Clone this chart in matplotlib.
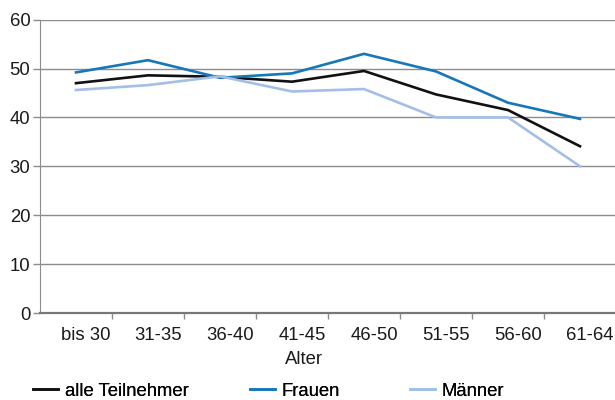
import matplotlib
matplotlib.use("Agg")
import matplotlib.pyplot as plt
from matplotlib.transforms import ScaledTranslation

plt.rcParams["font.family"] = ["Liberation Sans", "DejaVu Sans"]

# age groups and participation values (%)
categories = ["bis 30", "31-35", "36-40", "41-45", "46-50", "51-55", "56-60", "61-64"]
alle = [47.0, 48.6, 48.3, 47.3, 49.5, 44.7, 41.5, 34.1]
frauen = [49.2, 51.7, 48.1, 49.0, 53.0, 49.4, 43.0, 39.7]
maenner = [45.6, 46.6, 48.4, 45.3, 45.8, 40.0, 40.0, 30.0]

GRID = "#8c8c8c"
FS = 13.3

fig = plt.figure(figsize=(6.15, 4.0), dpi=100)
ax = fig.add_axes([40 / 615, 1 - 313 / 400, 576 / 615, (313 - 19.6) / 400])

x = range(len(categories))
ax.plot(x, alle, color="#111111", lw=1.9, label="alle Teilnehmer")
ax.plot(x, frauen, color="#1677b9", lw=1.9, label="Frauen")
ax.plot(x, maenner, color="#a3bfe8", lw=1.9, label="Männer")

ax.set_xlim(-0.5, len(categories) - 0.5)
ax.set_ylim(0, 60)
ax.set_yticks(range(0, 61, 10))
ax.yaxis.grid(True, color=GRID, lw=1.0)
ax.set_axisbelow(True)

# category labels near centres, tick marks on boundaries
ax.set_xticks([i + 0.5 for i in range(len(categories) - 1)])
ax.set_xticklabels([])
ax.set_xticks(list(x), minor=True)
ax.set_xticklabels(categories, minor=True)
ax.tick_params(axis="x", which="minor", length=0, pad=10, labelsize=FS, colors="#1a1a1a")
ax.tick_params(axis="x", which="major", length=4, color=GRID, width=1)
ax.tick_params(axis="y", length=5, color=GRID, width=1, labelsize=FS, labelcolor="#1a1a1a", pad=2)
shift = ScaledTranslation(10 / 100, 0, fig.dpi_scale_trans)
for lbl in ax.get_xticklabels(minor=True):
    lbl.set_transform(lbl.get_transform() + shift)

for s in ["top", "right"]:
    ax.spines[s].set_visible(False)
ax.spines["left"].set_color(GRID)
ax.spines["bottom"].set_color("#777777")
ax.spines["bottom"].set_linewidth(1.6)

ax.set_xlabel("Alter", fontsize=FS, color="#1a1a1a")
ax.xaxis.set_label_coords((304 - 40) / 576, -0.128)

# one legend entry each, placed like the original
handles, labels = ax.get_legend_handles_labels()
for h, l, px in zip(handles, labels, [33, 250, 410]):
    leg = fig.legend([h], [l], loc="center left", bbox_to_anchor=(px / 615, 1 - 391 / 400),
                     frameon=False, fontsize=FS, handlelength=1.35, handletextpad=0.38,
                     borderaxespad=0, borderpad=0)
    fig.add_artist(leg)

fig.savefig("out.png", dpi=100)
